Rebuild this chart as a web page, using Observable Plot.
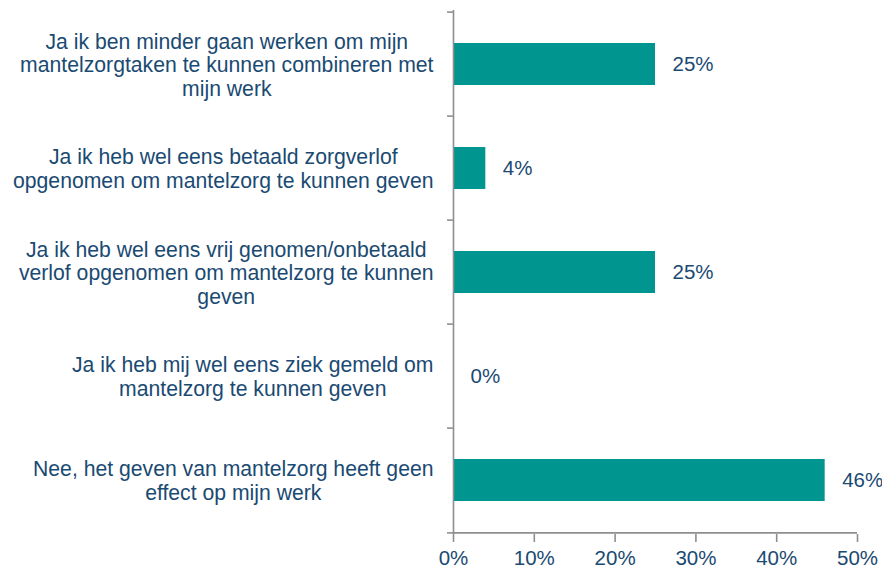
<!DOCTYPE html>
<html><head><meta charset="utf-8">
<script src="https://cdn.jsdelivr.net/npm/d3@7"></script>
<script src="https://cdn.jsdelivr.net/npm/@observablehq/plot@0.6"></script>
<style>body{margin:0;background:#fff}</style>
</head><body><div id="chart"></div>
<script>
const categories = [
  "Ja ik ben minder gaan werken om mijn\nmantelzorgtaken te kunnen combineren met\nmijn werk",
  "Ja ik heb wel eens betaald zorgverlof\nopgenomen om mantelzorg te kunnen geven",
  "Ja ik heb wel eens vrij genomen/onbetaald\nverlof opgenomen om mantelzorg te kunnen\ngeven",
  "Ja ik heb mij wel eens ziek gemeld om\nmantelzorg te kunnen geven",
  "Nee, het geven van mantelzorg heeft geen\neffect op mijn werk"
];
const values = [0.25, 0.04, 0.25, 0, 0.46];
const valueLabels = ["25%", "4%", "25%", "0%", "46%"];
const xTicks = [0, 0.1, 0.2, 0.3, 0.4, 0.5];

const data = categories.map((c, i) => ({label: c, value: values[i], text: valueLabels[i]}));

const W = 882, H = 571, mt = 10, mb = 37, ml = 453, mr = 25;
const step = (H - mt - mb) / categories.length;
const navy = "#1a4a72", gray = "#8e8e8e", teal = "#00968f", fs = 20.5, lfs = 21.2;
const font = "'Liberation Sans', Arial, sans-serif";

// measure widest line of each label so the block is right-aligned, lines centred
const ctx = document.createElement("canvas").getContext("2d");
ctx.font = `${lfs}px ${font}`;
const widest = (s) => Math.max(...s.split("\n").map(l => ctx.measureText(l).width));
const gap = 20;

const labelMarks = categories.map(c => Plot.text([c], {
  y: d => d, text: d => d, frameAnchor: "left", textAnchor: "middle",
  dx: -(gap + widest(c) / 2), lineHeight: 1.11, fontSize: lfs, fill: navy
}));

const chart = Plot.plot({
  width: W, height: H,
  marginTop: mt, marginBottom: mb, marginLeft: ml, marginRight: mr,
  style: {fontFamily: font, fontSize: fs + "px", background: "#fff"},
  x: {domain: [0, 0.5], axis: null, label: null},
  y: {domain: categories, paddingInner: 0.6, paddingOuter: 0.3, axis: null, label: null},
  marks: [
    Plot.barX(data, {x: "value", y: "label", fill: teal}),
    Plot.text(data, {x: "value", y: "label", text: "text", textAnchor: "start", dx: 17, fill: navy, fontSize: fs}),
    Plot.ruleX([0], {stroke: gray, strokeWidth: 1.6}),
    Plot.ruleY([categories[categories.length - 1]], {dy: step / 2, stroke: gray, strokeWidth: 1.6}),
    Plot.axisY({tickSize: 6, tickFormat: () => "", dy: -step / 2, stroke: gray, strokeWidth: 1.6, label: null}),
    Plot.axisY([categories[categories.length - 1]], {tickSize: 6, tickFormat: () => "", dy: step / 2, stroke: gray, strokeWidth: 1.6, label: null}),
    ...labelMarks,
    Plot.axisX(xTicks, {tickSize: 8, tickPadding: 8, tickFormat: d3.format(".0%"), stroke: gray, strokeWidth: 1.6, fill: navy, fontSize: fs, label: null})
  ]
});
document.getElementById("chart").appendChild(chart);
</script>
</body></html>
